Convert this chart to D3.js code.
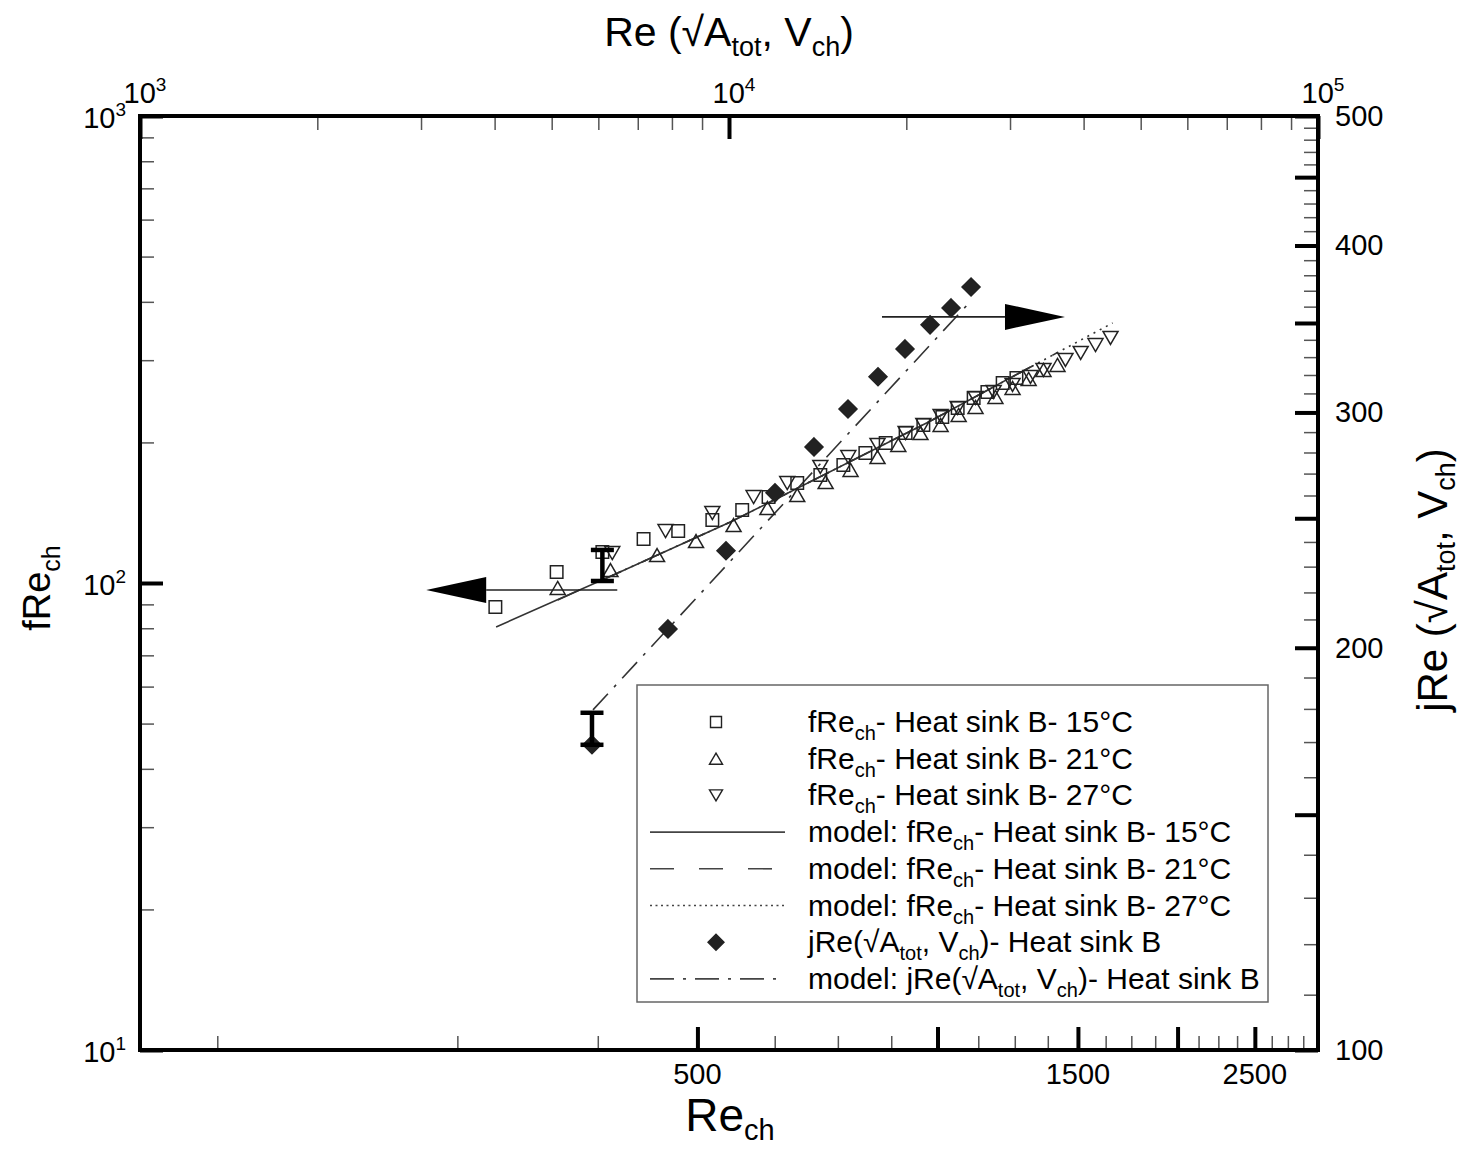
<!DOCTYPE html>
<html><head><meta charset="utf-8">
<script src="https://cdn.jsdelivr.net/npm/d3@7"></script>
<style>
body{margin:0;background:#fff;}
svg{display:block;font-family:"Liberation Sans",Arial,Helvetica,sans-serif;}
</style></head><body>
<svg id="c" width="1462" height="1149"></svg>
<script>
// ---------- data ----------
const reCh15 = [279,333,380,428,473,522,569,614,667,713,762,812,861,912,960,1014,1060,1110,1155,1207,1256];
const fRe15  = [88.8,105.6,116.5,124.2,129.2,136.4,143.3,152.8,163.7,170.3,178.9,189.8,199.4,209.5,218.0,226.8,237.1,249.0,256.5,268.1,274.8];
const reCh21 = [334,389,445,498,555,612,667,724,778,841,893,952,1009,1063,1116,1182,1242,1301,1358,1414];
const fRe21  = [97.6,106.6,114.8,123.0,133.1,144.7,154.3,164.5,174.6,186.1,197.5,209.5,218.0,229.0,238.2,250.3,261.6,273.5,285.9,293.0];
const reCh27 = [391,456,522,588,648,713,773,841,912,960,1009,1060,1116,1176,1242,1308,1358,1447,1512,1578,1648];
const fRe27  = [115.9,129.2,141.2,152.8,163.7,177.2,186.1,197.5,209.5,218.0,227.9,237.1,249.0,256.5,265.5,276.2,285.9,300.3,310.9,323.3,334.7];
const reA    = [5853,7878,9883,11969,13942,15923,17905,19900,21946,23825,25760];
const jReB   = [169.2,206.6,236.4,261.2,282.7,301.8,319.0,334.7,348.9,359.2,372.4];
const modelRe15 = [279.6,391,550,980,1308];
const modelF15  = [80.5,103.8,135.1,222.3,290.2];
const modelRe21 = [334,391,550,980,1316,1414];
const modelF21  = [92.0,103.8,135.1,222.3,291.6,311.5];
const modelRe27 = [391,550,980,1316,1414,1658];
const modelF27  = [103.8,135.1,222.3,291.6,311.5,360.4];
const modelReA  = [5876,25660];
const modelJ    = [179.7,363.0];
// error bars
const errF = {re:380, lo:101.0, hi:117.7};
const errJ = {re:5853, lo:169.2, hi:178.8};
// arrows (data coords)
const arrowF = {tip:228.5, tail:396.7, val:96.6};     // bottom / left axes
const arrowJ = {tail:18187, tip:37190, val:353.7};    // top / right axes
// ticks
const bottomMajor = [500,1000,1500,2000,2500];
const bottomLabels = [500,1500,2500];
const bottomMinor = d3.range(125,3000,125).filter(v=>v%500!==0);
const topMajor = [1e3,1e4,1e5];
const topMinor = [2,3,4,5,6,7,8,9].flatMap(m=>[m*1e3,m*1e4]);
const topExp = [3,4,5];
const leftMajor = [10,100,1000];
const leftMinor = [2,3,4,5,6,7,8,9].flatMap(m=>[m*10,m*100]);
const leftExp = [1,2,3];
const rightMajor = [100,150,200,250,300,350,400,450,500];
const rightLabels = [100,200,300,400,500];
const rightMinor = d3.range(110,500,10).filter(v=>v%50!==0);

// ---------- layout ----------
const L=140,R=1318,T=116,B=1050;
const svg=d3.select("#c");
svg.append("rect").attr("width",1462).attr("height",1149).attr("fill","#fff");
const x=d3.scaleLog().domain([100,3000]).range([L,R]);
const xT=d3.scaleLog().domain([1e3,1e5]).range([L,R]);
const y=d3.scaleLog().domain([10,1000]).range([B,T]);
const yR=d3.scaleLog().domain([100,500]).range([B,T]);

function styleAxis(g,w,col){g.select(".domain").remove();g.selectAll("line").attr("stroke",col).attr("stroke-width",w);g.selectAll("text").remove();}
// minor ticks
svg.append("g").attr("transform",`translate(0,${B})`).call(d3.axisBottom(x).tickValues(bottomMinor).tickSize(-14).tickFormat("")).call(g=>styleAxis(g,1.5,"#555"));
svg.append("g").attr("transform",`translate(0,${T})`).call(d3.axisTop(xT).tickValues(topMinor).tickSize(-14).tickFormat("")).call(g=>styleAxis(g,1.5,"#555"));
svg.append("g").attr("transform",`translate(${L},0)`).call(d3.axisLeft(y).tickValues(leftMinor).tickSize(-14).tickFormat("")).call(g=>styleAxis(g,1.5,"#555"));
svg.append("g").attr("transform",`translate(${R},0)`).call(d3.axisRight(yR).tickValues(rightMinor).tickSize(-14).tickFormat("")).call(g=>styleAxis(g,1.5,"#555"));
// major ticks
svg.append("g").attr("transform",`translate(0,${B})`).call(d3.axisBottom(x).tickValues(bottomMajor).tickSize(-23).tickFormat("")).call(g=>styleAxis(g,4,"#000"));
svg.append("g").attr("transform",`translate(0,${T})`).call(d3.axisTop(xT).tickValues(topMajor).tickSize(-23).tickFormat("")).call(g=>styleAxis(g,4,"#000"));
svg.append("g").attr("transform",`translate(${L},0)`).call(d3.axisLeft(y).tickValues(leftMajor).tickSize(-23).tickFormat("")).call(g=>styleAxis(g,4,"#000"));
svg.append("g").attr("transform",`translate(${R},0)`).call(d3.axisRight(yR).tickValues(rightMajor).tickSize(-23).tickFormat("")).call(g=>styleAxis(g,4,"#000"));
// frame
svg.append("rect").attr("x",L).attr("y",T).attr("width",R-L).attr("height",B-T).attr("fill","none").attr("stroke","#000").attr("stroke-width",4);

// tick labels
const TF=29;
svg.append("g").selectAll("text").data(bottomLabels).join("text")
  .attr("x",d=>x(d)).attr("y",B+34).attr("text-anchor","middle").attr("font-size",TF).text(d=>d);
svg.append("g").selectAll("text").data(rightLabels).join("text")
  .attr("x",R+17).attr("y",d=>yR(d)+10).attr("font-size",TF).text(d=>d);
const lt=svg.append("g").selectAll("text").data(leftExp).join("text")
  .attr("x",126).attr("y",d=>y(Math.pow(10,d))+12).attr("text-anchor","end").attr("font-size",TF);
lt.append("tspan").text("10");
lt.append("tspan").attr("font-size",19).attr("dy",-12).text(d=>d);
const tt=svg.append("g").selectAll("text").data(topExp).join("text")
  .attr("x",d=>xT(Math.pow(10,d))+5).attr("y",T-13).attr("text-anchor","middle").attr("font-size",TF);
tt.append("tspan").text("10");
tt.append("tspan").attr("font-size",19).attr("dy",-12).text(d=>d);

// axis titles
function sub(t,parts,big,small,shift){
  parts.forEach((p,i)=>{
    const s=t.append("tspan").text(p[0]);
    if(p[1]){s.attr("font-size",small).attr("dy",shift);}
    else {s.attr("font-size",big); if(i>0) s.attr("dy",-shift);}
  });
}
const topT=svg.append("text").attr("x",729).attr("y",46).attr("text-anchor","middle").attr("font-size",41);
sub(topT,[["Re (√A",0],["tot",1],[", V",0],["ch",1],[")",0]],41,27,10);
const botT=svg.append("text").attr("x",730).attr("y",1131).attr("text-anchor","middle").attr("font-size",46);
sub(botT,[["Re",0],["ch",1]],46,29,9);
const leftT=svg.append("text").attr("transform","translate(50,588) rotate(-90)").attr("text-anchor","middle").attr("font-size",38);
sub(leftT,[["fRe",0],["ch",1]],38,25,10);
const rightT=svg.append("text").attr("transform","translate(1447,580) rotate(-90)").attr("text-anchor","middle").attr("font-size",42);
sub(rightT,[["jRe (√A",0],["tot",1],[", V",0],["ch",1],[")",0]],42,27,8);

// ---------- marks ----------
const plot=svg.append("g");
const ink="#222";
const lineF=d3.line().x(d=>x(d[0])).y(d=>y(d[1]));
const lineJ=d3.line().x(d=>xT(d[0])).y(d=>yR(d[1]));
function addLine(gen,xs,ys,dash){
  plot.append("path").attr("d",gen(d3.zip(xs,ys))).attr("fill","none").attr("stroke","#333").attr("stroke-width",1.6).attr("stroke-dasharray",dash);
}
addLine(lineF,modelRe27,modelF27,"2,5");
addLine(lineF,modelRe21,modelF21,"24,22");
addLine(lineF,modelRe15,modelF15,null);
addLine(lineJ,modelReA,modelJ,"22,9,3,9");

const sq=(cx,cy,s)=>`M${cx-s/2},${cy-s/2}h${s}v${s}h${-s}Z`;
const tu=(cx,cy,w,h)=>`M${cx},${cy-h/2}L${cx+w/2},${cy+h/2}L${cx-w/2},${cy+h/2}Z`;
const td=(cx,cy,w,h)=>`M${cx},${cy+h/2}L${cx+w/2},${cy-h/2}L${cx-w/2},${cy-h/2}Z`;
const dm=(cx,cy,d)=>`M${cx},${cy-d/2}L${cx+d/2},${cy}L${cx},${cy+d/2}L${cx-d/2},${cy}Z`;

function markers(xs,ys,sx,sy,fn,fill){
  plot.append("g").selectAll("path").data(d3.zip(xs,ys)).join("path")
   .attr("d",d=>fn(sx(d[0]),sy(d[1]))).attr("fill",fill).attr("stroke",ink).attr("stroke-width",1.5);
}
markers(reCh15,fRe15,x,y,(a,b)=>sq(a,b,12.5),"none");
markers(reCh21,fRe21,x,y,(a,b)=>tu(a,b,15,13),"none");
markers(reCh27,fRe27,x,y,(a,b)=>td(a,b,15,13),"none");
markers(reA,jReB,xT,yR,(a,b)=>dm(a,b,18),"#222");

// error bars
function errbar(cx,y1,y2){
  const g=plot.append("g").attr("stroke","#000").attr("stroke-width",4.5);
  g.append("line").attr("x1",cx).attr("x2",cx).attr("y1",y1).attr("y2",y2);
  g.append("line").attr("x1",cx-11.5).attr("x2",cx+11.5).attr("y1",y1).attr("y2",y1);
  g.append("line").attr("x1",cx-11.5).attr("x2",cx+11.5).attr("y1",y2).attr("y2",y2);
}
errbar(x(errF.re),y(errF.hi),y(errF.lo));
errbar(xT(errJ.re),yR(errJ.hi),yR(errJ.lo));

// arrows
function arrow(x1,x2,yy,dir){ // x1 tail, x2 tip
  const hl=60, hw=13;
  const base=x2-dir*hl;
  plot.append("line").attr("x1",x1).attr("x2",base).attr("y1",yy).attr("y2",yy).attr("stroke","#222").attr("stroke-width",1.6);
  plot.append("path").attr("d",`M${x2},${yy}L${base},${yy-hw}L${base},${yy+hw}Z`).attr("fill","#000");
}
arrow(x(arrowF.tail),x(arrowF.tip),y(arrowF.val),-1);
arrow(xT(arrowJ.tail),xT(arrowJ.tip),yR(arrowJ.val),1);

// ---------- legend ----------
const legendItems=[
  {kind:"sq", parts:[["fRe",0],["ch",1],["- Heat sink B- 15°C",0]]},
  {kind:"tu", parts:[["fRe",0],["ch",1],["- Heat sink B- 21°C",0]]},
  {kind:"td", parts:[["fRe",0],["ch",1],["- Heat sink B- 27°C",0]]},
  {kind:"solid", parts:[["model: fRe",0],["ch",1],["- Heat sink B- 15°C",0]]},
  {kind:"dash", parts:[["model: fRe",0],["ch",1],["- Heat sink B- 21°C",0]]},
  {kind:"dot", parts:[["model: fRe",0],["ch",1],["- Heat sink B- 27°C",0]]},
  {kind:"dm", parts:[["jRe(√A",0],["tot",1],[", V",0],["ch",1],[")- Heat sink B",0]]},
  {kind:"dashdot", parts:[["model: jRe(√A",0],["tot",1],[", V",0],["ch",1],[")- Heat sink B",0]]}
];
const lg=svg.append("g");
lg.append("rect").attr("x",637).attr("y",685).attr("width",631).attr("height",317).attr("fill","#fff").attr("stroke","#666").attr("stroke-width",1.5);
const rowY=i=>722+i*36.7;
legendItems.forEach((it,i)=>{
  const cy=rowY(i), cx=716;
  const dashes={solid:null,dash:"24,25",dot:"2,3.5",dashdot:"24,9,3,9"};
  if(it.kind in dashes){
    lg.append("line").attr("x1",650).attr("x2",785).attr("y1",cy).attr("y2",cy).attr("stroke","#444").attr("stroke-width",1.6).attr("stroke-dasharray",dashes[it.kind]);
  } else {
    const f={sq:sq(cx,cy,11),tu:tu(cx,cy,13,11),td:td(cx,cy,13,11),dm:dm(cx,cy,16)}[it.kind];
    lg.append("path").attr("d",f).attr("fill",it.kind==="dm"?"#222":"none").attr("stroke",ink).attr("stroke-width",1.4);
  }
  const t=lg.append("text").attr("x",808).attr("y",cy+10).attr("font-size",30);
  sub(t,it.parts,30,20,8);
});
</script>
</body></html>
